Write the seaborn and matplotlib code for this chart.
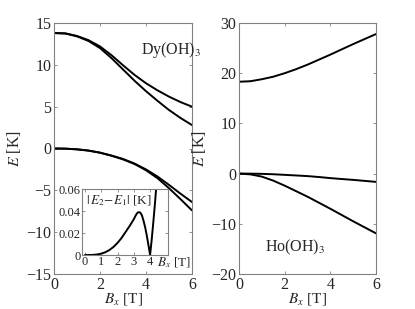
import numpy as np
import pandas as pd
import matplotlib
matplotlib.use("Agg")
import matplotlib.pyplot as plt
import seaborn as sns

# field values (T)
b = [0, 0.5, 1, 1.5, 2, 2.5, 3, 3.5, 4, 4.5, 5, 5.5, 6]

# Dy(OH)3 levels (K)
dy_e4 = [13.8, 13.75, 13.45, 12.95, 12.2, 11.15, 9.95, 8.8, 7.8, 6.95, 6.2, 5.55, 5.0]
dy_e3 = [13.8, 13.75, 13.4, 12.85, 12.0, 10.8, 9.45, 8.1, 6.85, 5.7, 4.6, 3.65, 2.8]
dy_e2 = [0, -0.02, -0.1, -0.25, -0.5, -0.85, -1.25, -1.8, -2.5, -3.35, -4.35, -5.4, -6.4]
dy_e1 = [0, -0.02, -0.1, -0.25, -0.5, -0.86, -1.3, -1.85, -2.6, -3.55, -4.75, -6.05, -7.4]

# inset: |E2 - E1| (K)
gap_b = [0, 0.25, 0.5, 0.75, 1, 1.25, 1.5, 1.75, 2, 2.25, 2.5, 2.75, 3, 3.1, 3.2,
         3.3, 3.4, 3.5, 3.6, 3.7, 3.8, 3.9, 4.0, 4.1, 4.2, 4.3, 4.37]
gap = [0, 0, 0.0001, 0.0005, 0.0012, 0.0025, 0.0045, 0.0073, 0.011, 0.0155, 0.021,
       0.0265, 0.0325, 0.0355, 0.038, 0.039, 0.0385, 0.036, 0.031, 0.025, 0.0175,
       0.009, 0.0, 0.014, 0.03, 0.047, 0.06]

# Ho(OH)3 levels (K)
ho_e3 = [18.3, 18.4, 18.8, 19.3, 20.0, 20.8, 21.7, 22.7, 23.7, 24.75, 25.8, 26.8, 27.8]
ho_e2 = [0, -0.01, -0.05, -0.13, -0.25, -0.37, -0.5, -0.68, -0.9, -1.08, -1.25, -1.45, -1.65]
ho_e1 = [0, -0.15, -0.6, -1.4, -2.4, -3.5, -4.6, -5.8, -7.0, -8.25, -9.5, -10.7, -11.9]

sns.set_style("ticks")
plt.rcParams["font.family"] = ["Liberation Serif", "DejaVu Serif"]
plt.rcParams["mathtext.fontset"] = "stix"
plt.rcParams["xtick.direction"] = "in"
plt.rcParams["ytick.direction"] = "in"

fig = plt.figure(figsize=(4.15, 3.09), dpi=100)
ax1 = fig.add_axes([54 / 415, 35 / 309, 138 / 415, 251 / 309])
ax2 = fig.add_axes([239 / 415, 35 / 309, 137 / 415, 251 / 309])
axin = fig.add_axes([82 / 415, 54 / 309, 86 / 415, 66 / 309])

lw = 1.4
for ys in [dy_e4, dy_e3, dy_e2, dy_e1]:
    sns.lineplot(x=b, y=ys, ax=ax1, color="k", lw=lw)
for ys in [ho_e3, ho_e2, ho_e1]:
    sns.lineplot(x=b, y=ys, ax=ax2, color="k", lw=lw)
sns.lineplot(x=gap_b, y=gap, ax=axin, color="k", lw=lw)


def style(ax, fs):
    for s in ax.spines.values():
        s.set_visible(True)
        s.set_color("#808080")
        s.set_linewidth(0.8)
    ax.tick_params(which="both", direction="in", top=True, right=True,
                   length=2.5, width=0.6, color="#808080", labelsize=fs, pad=2)


ax1.set_xlim(0, 6)
ax1.set_ylim(-15, 15)
ax1.set_xticks([0, 2, 4, 6])
ax1.set_yticks([-15, -10, -5, 0, 5, 10, 15])
ax1.set_yticklabels(["\u221215", "\u221210", "\u22125", "0", "5", "10", "15"])
style(ax1, 11.5)
ax1.set_xlabel(r"$B_x$ [T]", fontsize=11, labelpad=-1.5)
ax1.set_ylabel(r"$E$ [K]", fontsize=11.5, labelpad=2)
ax1.text(3.8, 11.3, r"Dy(OH)$_3$", fontsize=11.5)

ax2.set_xlim(0, 6)
ax2.set_ylim(-20, 30)
ax2.set_xticks([0, 2, 4, 6])
ax2.set_yticks([-20, -10, 0, 10, 20, 30])
ax2.set_yticklabels(["\u221220", "\u221210", "0", "10", "20", "30"])
style(ax2, 11.5)
ax2.set_xlabel(r"$B_x$ [T]", fontsize=11, labelpad=-1.5)
ax2.set_ylabel(r"$E$ [K]", fontsize=11.5, labelpad=2)
ax2.text(1.15, -15.5, r"Ho(OH)$_3$", fontsize=11.5)

axin.set_xlim(-0.18, 5.1)
axin.set_ylim(0, 0.06)
axin.set_xticks([0, 1, 2, 3, 4])
axin.set_yticks([0, 0.02, 0.04, 0.06])
axin.set_yticklabels(["0", "0.02", "0.04", "0.06"])
style(axin, 9)
axin.tick_params(pad=1)
axin.text(4.45, -0.0008, r"$B_x$ [T]", fontsize=9.5, va="top")
axin.text(0.05, 0.056, r"$|\,E_2\!-\!E_1|$ [K]", fontsize=9.5, va="top")

fig.savefig("out.png", dpi=100)
